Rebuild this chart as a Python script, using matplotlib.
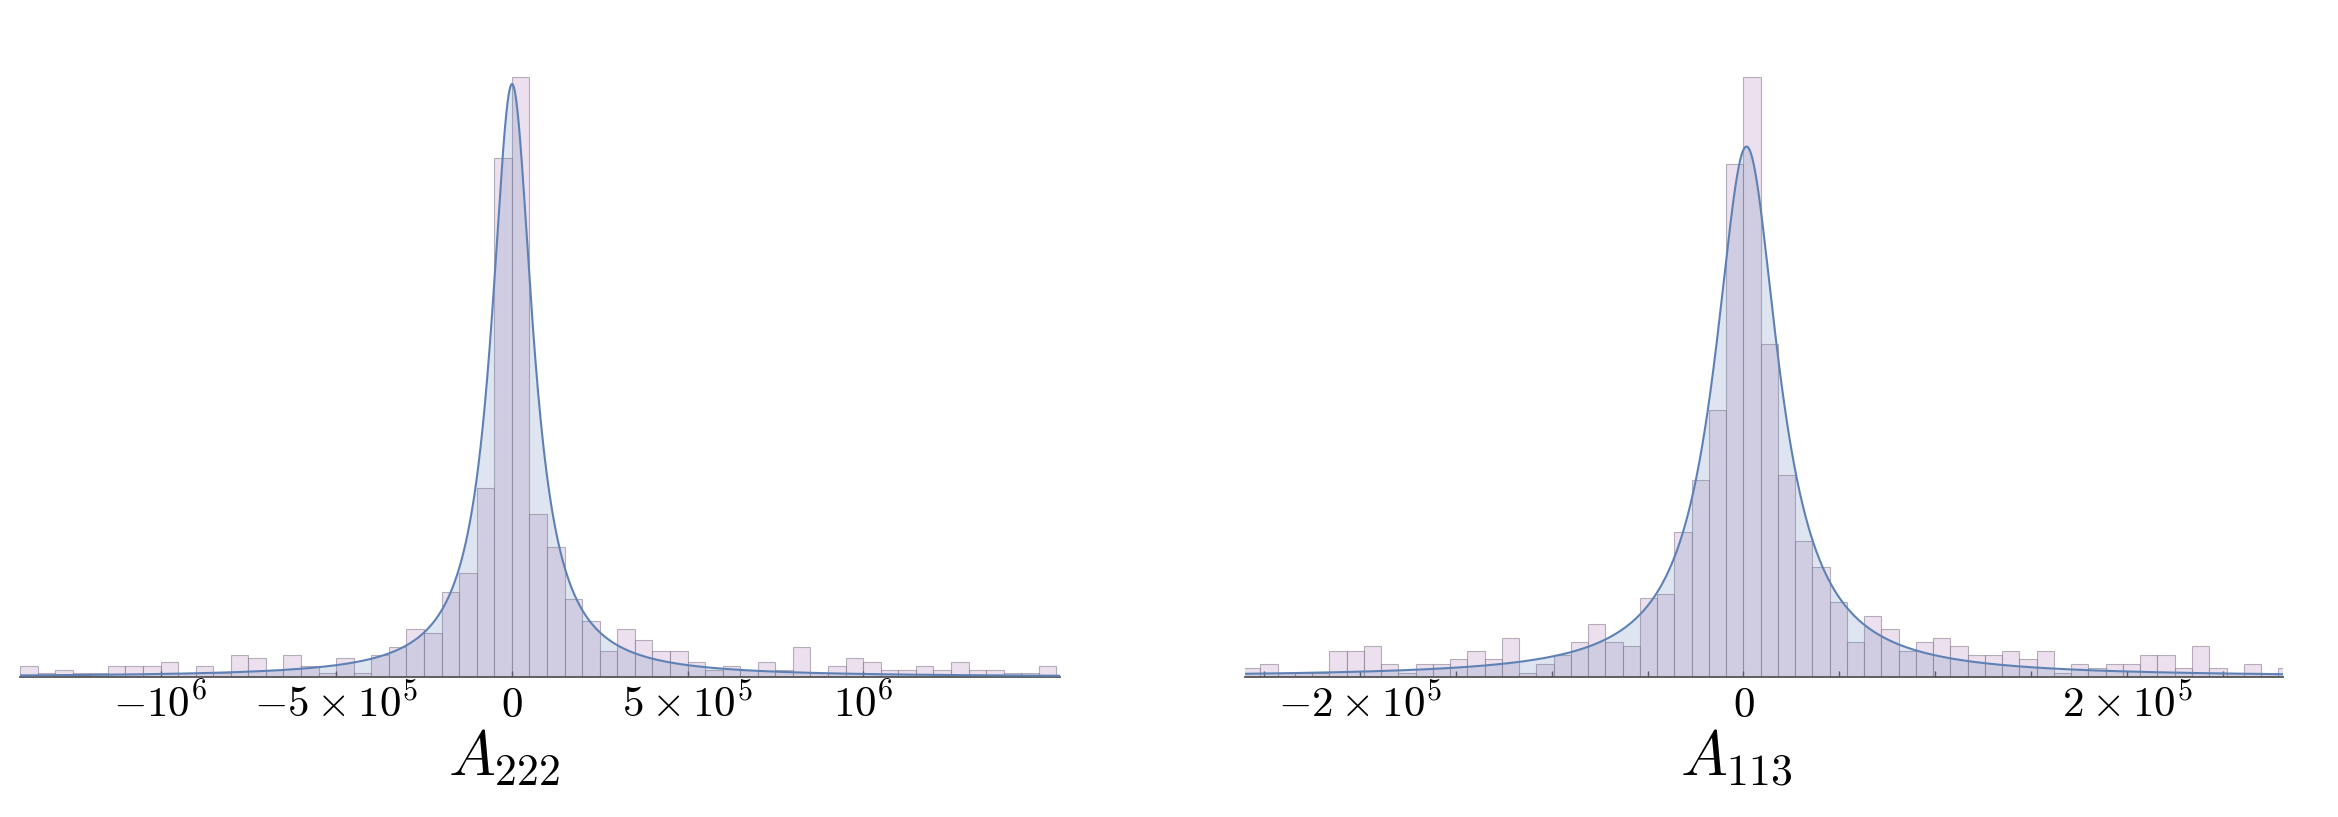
import numpy as np
import matplotlib
matplotlib.use("Agg")
import matplotlib.pyplot as plt
from matplotlib.ticker import FixedLocator, MultipleLocator

plt.rcParams["mathtext.fontset"] = "cm"

# ---- A_222 : counts per bin (bins of 5e4 starting at -1.4e6)
a222_bin_start = -1.4e6
a222_bin_width = 5e4
a222_counts = [3, 1, 2, 1, 1, 3, 3, 3, 4, 1, 3, 1, 6, 5, 2, 6, 3, 1, 5, 1,
               6, 8, 13, 12, 23, 28, 51, 140,
               162, 44, 35, 21, 15, 7, 13, 10, 7, 7, 4, 2, 3, 2, 4, 2, 8, 1,
               3, 5, 4, 2, 2, 3, 2, 4, 2, 2, 1, 1, 3]
a222_fit = (500.0, 7.13e4)          # Cauchy location, scale
a222_xlim = (-1.4e6, 1.56e6)
a222_ticks = [-1e6, -5e5, 0, 5e5, 1e6]
a222_labels = [r"$-10^{6}$", r"$-5\times10^{5}$", r"$0$",
               r"$5\times10^{5}$", r"$10^{6}$"]

# ---- A_113 : counts per bin (bins of 9e3 starting at -2.61e5)
a113_bin_start = -2.61e5
a113_bin_width = 9e3
a113_counts = [2, 3, 1, 1, 1, 6, 6, 7, 3, 1, 3, 3, 4, 6, 4, 9, 1, 3, 5, 8,
               12, 8, 7, 18, 19, 33, 45, 61, 117,
               137, 76, 46, 31, 25, 17, 8, 14, 11, 6, 8, 9, 7, 5, 5, 6, 4, 6,
               1, 3, 2, 3, 3, 5, 5, 2, 7, 2, 1, 3, 1, 2]
a113_fit = (1.6e3, 2.03e4)
a113_xlim = (-2.60e5, 2.815e5)
a113_ticks = [-2e5, 0, 2e5]
a113_labels = [r"$-2\times10^{5}$", r"$0$", r"$2\times10^{5}$"]

line_c = "#5E81B5"
bar_face = "#EDE0EE"
bar_edge = (0.24, 0.2, 0.28, 0.35)
axis_c = "#555555"


def panel(ax, start, width, counts, fit, xlim, ticks, labels, xlabel, minor=None):
    counts = np.asarray(counts, dtype=float)
    edges = start + width * np.arange(len(counts))
    ax.bar(edges, counts, width=width, align="edge", color=bar_face,
           edgecolor=bar_edge, linewidth=0.8, zorder=1)

    loc, scale = fit
    x = np.linspace(xlim[0], xlim[1], 3000)
    y = counts.sum() * width / np.pi * scale / ((x - loc) ** 2 + scale ** 2)
    ax.fill_between(x, 0, y, color=line_c, alpha=0.2, lw=0, zorder=2)
    ax.plot(x, y, color=line_c, lw=1.5, zorder=3)

    ax.set_xlim(*xlim)
    ax.set_ylim(0, counts.max() * 1.078)
    for s in ("top", "left", "right"):
        ax.spines[s].set_visible(False)
    ax.spines["bottom"].set_color(axis_c)
    ax.spines["bottom"].set_linewidth(1.3)
    ax.set_yticks([])
    ax.xaxis.set_major_locator(FixedLocator(ticks))
    ax.set_xticklabels(labels)
    if minor:
        ax.xaxis.set_minor_locator(MultipleLocator(minor))
    ax.tick_params(axis="x", which="both", direction="in", length=4,
                   width=1, color=axis_c, labelsize=31, pad=5)
    # label sits under x = 0 rather than the axis centre
    zero_frac = (0 - xlim[0]) / (xlim[1] - xlim[0])
    ax.set_xlabel(xlabel, fontsize=45, va="center")
    ax.xaxis.set_label_coords(zero_frac - 0.007, -0.125)


fig = plt.figure(figsize=(23.38, 8.17), dpi=100)
ax1 = fig.add_axes([0.00855, 0.1714, 0.4448, 0.7919])
ax2 = fig.add_axes([0.5325, 0.1714, 0.4440, 0.7919])

panel(ax1, a222_bin_start, a222_bin_width, a222_counts, a222_fit, a222_xlim,
      a222_ticks, a222_labels, r"$A_{222}$")
panel(ax2, a113_bin_start, a113_bin_width, a113_counts, a113_fit, a113_xlim,
      a113_ticks, a113_labels, r"$A_{113}$", minor=5e4)

fig.savefig("out.png", dpi=100)
